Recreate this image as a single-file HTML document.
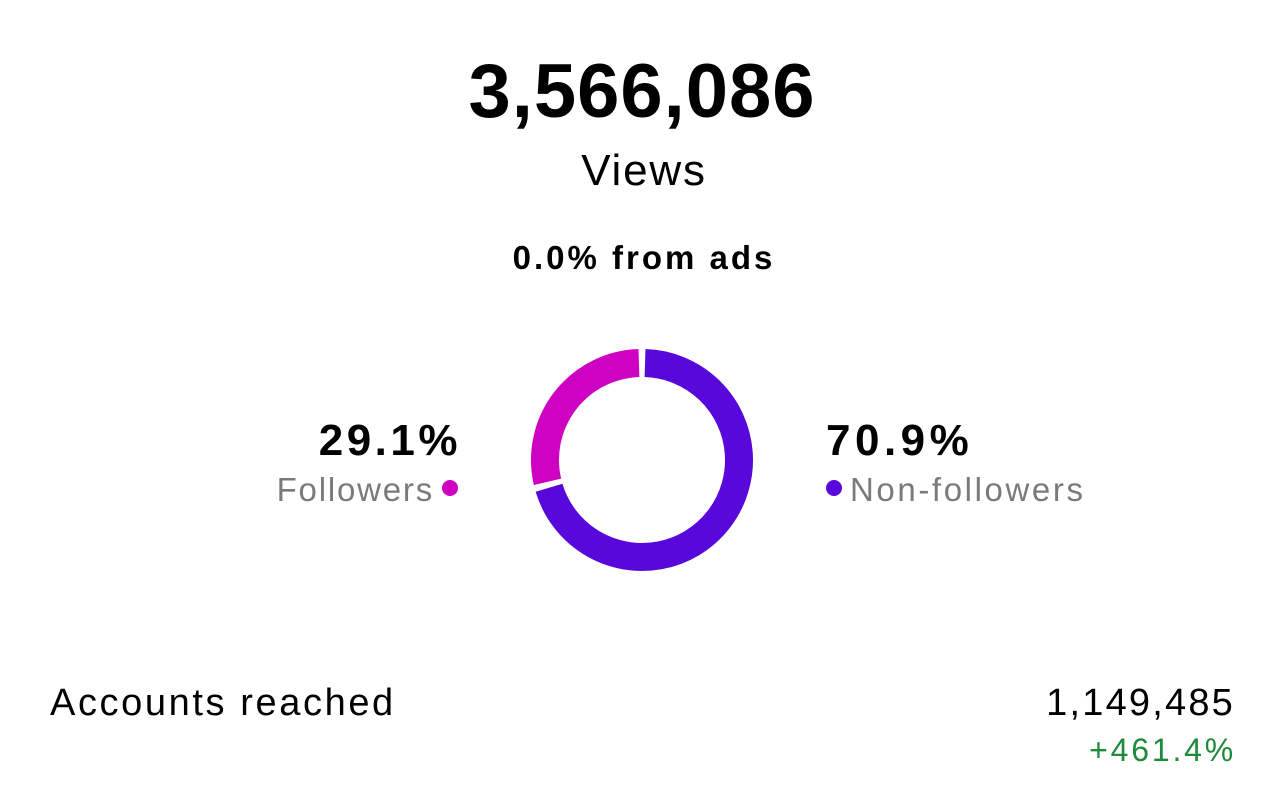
<!DOCTYPE html>
<html><head><meta charset="utf-8"><style>
body{margin:0;width:1284px;height:785px;background:#fff;font-family:"Liberation Sans",sans-serif;position:relative;overflow:hidden;color:#000}
.a{position:absolute;white-space:nowrap;line-height:1}
</style></head><body>
<div class="a" style="left:0;width:1284px;text-align:center;top:54px;font-size:76px;font-weight:bold;letter-spacing:1px">3,566,086</div>
<div class="a" style="left:2px;width:1284px;text-align:center;top:149px;font-size:44px;letter-spacing:1.8px">Views</div>
<div class="a" style="left:2px;width:1284px;text-align:center;top:241px;font-size:33px;font-weight:bold;letter-spacing:3px">0.0% from ads</div>
<svg class="a" style="left:0;top:0" width="1284" height="785">
<path d="M645.05,363.05 A97,97 0 1 1 549.04,487.71" fill="none" stroke="#5908DC" stroke-width="28"/>
<path d="M547.49,481.82 A97,97 0 0 1 638.95,363.05" fill="none" stroke="#CE00C2" stroke-width="28"/>
<circle cx="450" cy="488" r="8" fill="#CE00C2"/>
<circle cx="834" cy="488" r="8" fill="#5908DC"/>
</svg>
<div class="a" style="right:823px;top:419px;font-size:44px;font-weight:bold;letter-spacing:3.5px">29.1%</div>
<div class="a" style="right:850px;top:473px;font-size:33px;color:#7a7a7a;letter-spacing:1.8px">Followers</div>
<div class="a" style="left:826px;top:419px;font-size:44px;font-weight:bold;letter-spacing:4.5px">70.9%</div>
<div class="a" style="left:850px;top:473px;font-size:33px;color:#7a7a7a;letter-spacing:2.6px">Non-followers</div>
<div class="a" style="left:50px;top:684px;font-size:38px;letter-spacing:2.6px">Accounts reached</div>
<div class="a" style="right:49px;top:684px;font-size:38px;letter-spacing:2.2px">1,149,485</div>
<div class="a" style="right:48px;top:734px;font-size:32px;color:#1f8a3a;letter-spacing:2.8px">+461.4%</div>
</body></html>
